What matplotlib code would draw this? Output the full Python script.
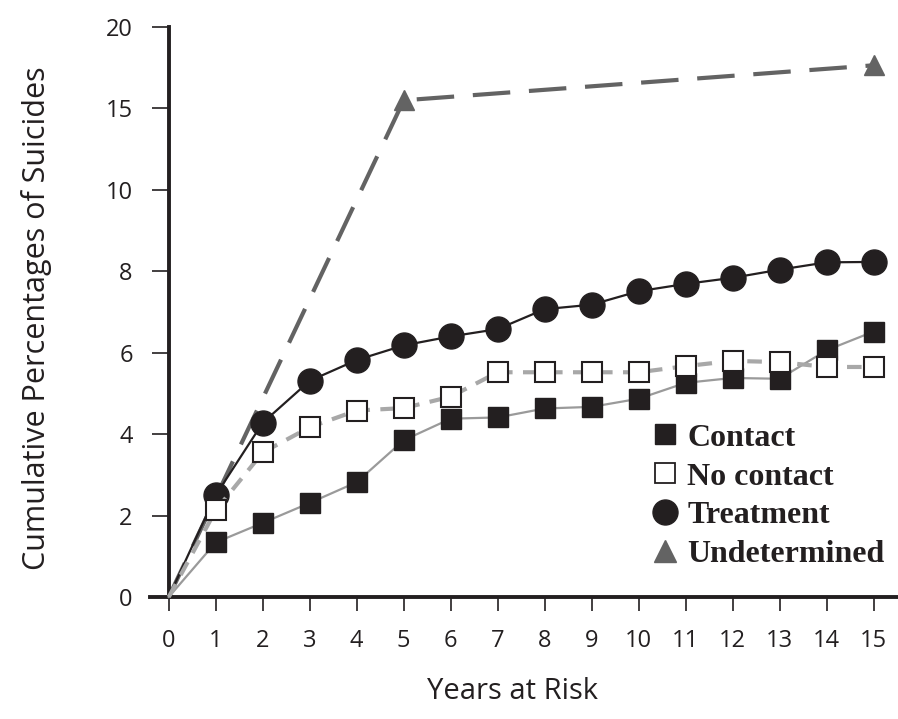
import numpy as np
import matplotlib
matplotlib.use("Agg")
import matplotlib.pyplot as plt
from matplotlib.lines import Line2D

years = list(range(16))
contact = [0, 1.34, 1.82, 2.31, 2.82, 3.85, 4.38, 4.41, 4.63, 4.67, 4.87, 5.26, 5.38, 5.36, 6.06, 6.52]
no_contact = [0, 2.13, 3.55, 4.17, 4.58, 4.64, 4.92, 5.52, 5.52, 5.52, 5.52, 5.67, 5.80, 5.77, 5.65, 5.65]
treatment = [0, 2.50, 4.28, 5.31, 5.82, 6.18, 6.40, 6.58, 7.07, 7.18, 7.51, 7.69, 7.84, 8.04, 8.22, 8.23]
undet_years = [0, 5, 15]
undetermined = [0, 15.5, 17.65]

y_ticks = [0, 2, 4, 6, 8, 10, 15, 20]
labels = ["Contact", "No contact", "Treatment", "Undetermined"]

INK = "#231f20"


# broken y scale: steps of 2 up to 10, then steps of 5
def fwd(y):
    y = np.asarray(y, dtype=float)
    return np.where(y <= 10, y / 2.0, 5 + (y - 10) / 5.0)


def inv(t):
    t = np.asarray(t, dtype=float)
    return np.where(t <= 5, t * 2.0, 10 + (t - 5) * 5.0)


fig = plt.figure(figsize=(8.98, 7.19), dpi=100)
ax = fig.add_axes([0.167, 0.1697, 0.832, 0.7927])
ax.set_yscale("function", functions=(fwd, inv))

ax.plot(undet_years, undetermined, color="#636363", lw=3, dashes=(9, 4.5),
        marker="^", markersize=15, markevery=[1, 2], markerfacecolor="#636363",
        markeredgecolor="#636363", zorder=2, clip_on=False)
ax.plot(years, treatment, color=INK, lw=1.6, marker="o", markersize=18,
        markerfacecolor=INK, markeredgecolor=INK, markevery=list(range(1, 16)),
        zorder=3, clip_on=False)
ax.plot(years, contact, color="#9a9a9a", lw=1.6, marker="s", markersize=14.5,
        markerfacecolor=INK, markeredgecolor=INK, markevery=list(range(1, 16)),
        zorder=4, clip_on=False)
ax.plot(years, no_contact, color="#a8a8a8", lw=3, dashes=(3.5, 2.5), marker="s",
        markersize=14.5, markerfacecolor="white", markeredgecolor=INK, markeredgewidth=1.5,
        markevery=list(range(1, 16)), zorder=5, clip_on=False)

ax.set_xlim(-0.4, 15.5)
ax.set_ylim(0, 20)
ax.set_xticks(years)
ax.set_yticks(y_ticks)
ax.set_yticklabels([str(v) for v in y_ticks])

for s in ["top", "right"]:
    ax.spines[s].set_visible(False)
ax.spines["left"].set_position(("data", 0))
ax.spines["left"].set_linewidth(2.8)
ax.spines["bottom"].set_linewidth(2.8)
ax.spines["left"].set_color(INK)
ax.spines["bottom"].set_color(INK)
ax.spines["left"].set_bounds(0, 20)

ax.tick_params(axis="y", direction="out", length=12, width=1.2, color=INK, pad=14,
               labelsize=17, labelcolor=INK)
ax.tick_params(axis="x", direction="out", length=10, width=1.2, color=INK, pad=13,
               labelsize=17, labelcolor=INK)
for lab in ax.get_xticklabels() + ax.get_yticklabels():
    lab.set_family("Open Sans")

ax.set_xlabel("Years at Risk", fontsize=21, family="Open Sans", color=INK)
ax.set_ylabel("Cumulative Percentages of Suicides", fontsize=22, family="Open Sans",
              color=INK)
ax.xaxis.set_label_coords(0.485, -0.14)
ax.yaxis.set_label_coords(-0.131, 0.49)

handles = [
    Line2D([], [], ls="none", marker="s", markersize=15, markerfacecolor=INK, markeredgecolor=INK),
    Line2D([], [], ls="none", marker="s", markersize=14, markerfacecolor="white",
           markeredgecolor=INK, markeredgewidth=1.3),
    Line2D([], [], ls="none", marker="o", markersize=18, markerfacecolor=INK, markeredgecolor=INK),
    Line2D([], [], ls="none", marker="^", markersize=16, markerfacecolor="#636363",
           markeredgecolor="#636363"),
]
leg = ax.legend(handles, labels, loc="lower right", bbox_to_anchor=(1.0, 0.026),
                frameon=False, handlelength=0.9, handletextpad=0.25, labelspacing=0.3,
                borderaxespad=0.0,
                prop={"family": "Liberation Serif", "weight": "bold", "size": 23})
for t in leg.get_texts():
    t.set_color(INK)

fig.savefig("out.png", dpi=100)
